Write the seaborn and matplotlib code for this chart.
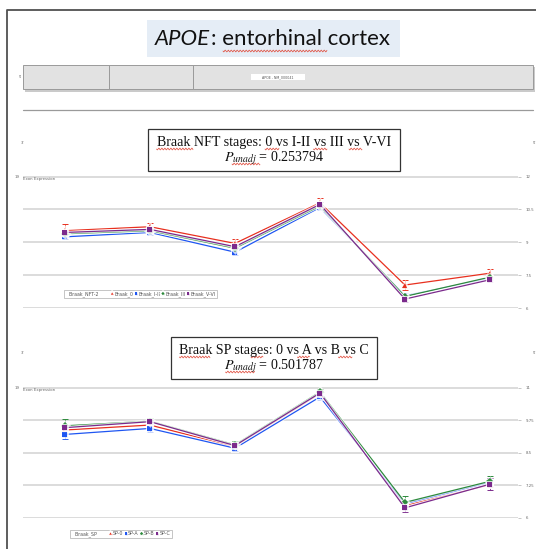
import numpy as np
import pandas as pd
import matplotlib
matplotlib.use("Agg")
import matplotlib.pyplot as plt
import matplotlib.patheffects as pe
from matplotlib.patches import Rectangle
from matplotlib.lines import Line2D
import seaborn as sns

sns.set_style("white")
plt.rcParams["font.family"] = ["DejaVu Sans"]
plt.rcParams["mathtext.fontset"] = "stix"

W, H = 536, 549

# exon positions along the transcript
exon_pos = [0, 1, 2, 3, 4, 5]

# Braak NFT stage groups: mean exon expression and error
nft_groups = ["Braak_0", "Braak_I-II", "Braak_III", "Braak_V-VI"]
nft_braak_0 = [9.53, 9.71, 8.95, 10.80, 7.05, 7.59]
nft_braak_1_2 = [9.25, 9.45, 8.55, 10.59, 6.56, 7.36]
nft_braak_3 = [9.39, 9.53, 8.73, 10.66, 6.53, 7.41]
nft_braak_5_6 = [9.45, 9.59, 8.80, 10.73, 6.41, 7.29]
nft_err_0 = [0.29, 0.15, 0.18, 0.23, 0.23, 0.21]
nft_err_1_2 = [0.12, 0.10, 0.12, 0.10, 0.12, 0.10]
nft_err_3 = [0.10, 0.10, 0.10, 0.10, 0.12, 0.10]
nft_err_5_6 = [0.12, 0.10, 0.10, 0.10, 0.14, 0.10]
nft_ticks = [6, 7.5, 9, 10.5, 12]
nft_ticklabels = ["6", "7.5", "9", "10.5", "12"]

# Braak SP stage groups
sp_groups = ["SP-0", "SP-A", "SP-B", "SP-C"]
sp_0 = [9.37, 9.56, 8.73, 10.77, 6.47, 7.27]
sp_a = [9.20, 9.43, 8.67, 10.64, 6.54, 7.36]
sp_b = [9.53, 9.71, 8.80, 10.83, 6.59, 7.40]
sp_c = [9.46, 9.69, 8.77, 10.79, 6.38, 7.29]
sp_err_0 = [0.12, 0.10, 0.10, 0.10, 0.12, 0.10]
sp_err_a = [0.18, 0.13, 0.12, 0.10, 0.15, 0.10]
sp_err_b = [0.26, 0.12, 0.13, 0.10, 0.26, 0.19]
sp_err_c = [0.12, 0.10, 0.10, 0.10, 0.17, 0.22]
sp_ticks = [6, 7.25, 8.5, 9.75, 11]
sp_ticklabels = ["6", "7.25", "8.5", "9.75", "11"]

group_colors = ["#e8301f", "#1f56f2", "#2d8a3c", "#7b2a8c"]
group_markers = ["^", "s", "D", "s"]


def fx(px):
    return px / W


def fy(py):
    return 1 - py / H


fig = plt.figure(figsize=(W / 100, H / 100), dpi=100)
fig.patch.set_facecolor("white")
renderer = fig.canvas.get_renderer()

# slide frame
fig.add_artist(Line2D([fx(7), fx(7), fx(536)], [fy(549), fy(10), fy(10)],
                      color="#505050", lw=1.3, transform=fig.transFigure))


def squiggle(x0, x1, y):
    xs = np.linspace(x0, x1, int((x1 - x0) * 3) + 2)
    ys = y + 0.9 * np.sin((xs - x0) * 2 * np.pi / 3.0)
    fig.add_artist(Line2D(fx(xs), fy(ys), color="#e04a3a", lw=0.5,
                          transform=fig.transFigure))


# heading: italic gene symbol followed by upright text
fig.add_artist(Rectangle((fx(147), fy(57)), fx(400) - fx(147), fy(20) - fy(57),
                         facecolor="#e5edf6", edgecolor="none",
                         transform=fig.transFigure))
head_font = dict(fontsize=16, family=["Lato", "DejaVu Sans"], color="#111111",
                 va="baseline")
t1 = fig.text(0, fy(45), "APOE", style="italic", **head_font)
t2 = fig.text(0, fy(45), ": entorhinal cortex", **head_font)
w1 = t1.get_window_extent(renderer).width
w2 = t2.get_window_extent(renderer).width
start = 272 - (w1 + w2) / 2
t1.set_x(fx(start))
t2.set_x(fx(start + w1 + 0.5))
squiggle(223, 327, 51)

# gene track
for x0, x1 in [(23, 108.7), (108.7, 193), (193, 533)]:
    fig.add_artist(Rectangle((fx(x0 + 1.5), fy(91.5)), fx(x1) - fx(x0), fy(65) - fy(89),
                             facecolor="#a8a8a8", edgecolor="none", alpha=0.6,
                             transform=fig.transFigure))
    fig.add_artist(Rectangle((fx(x0), fy(89)), fx(x1) - fx(x0), fy(65) - fy(89),
                             facecolor="#e2e2e2", edgecolor="#9a9a9a", lw=0.7,
                             transform=fig.transFigure))
fig.add_artist(Rectangle((fx(251), fy(80)), fx(305) - fx(251), fy(74.5) - fy(80),
                         facecolor="white", edgecolor="none", transform=fig.transFigure))
fig.text(fx(278), fy(77.3), "APOE - NM_000041", ha="center", va="center",
         fontsize=2.3, color="#555555")
fig.text(fx(20), fy(77), "5'", ha="center", va="center", fontsize=2.5, color="#666666")
fig.add_artist(Line2D([fx(23), fx(533)], [fy(110), fy(110)], color="#9a9a9a", lw=0.9,
                      transform=fig.transFigure))


def title_box(x0, x1, y0, y1, line1, pval, squigs, usq):
    fig.add_artist(Rectangle((fx(x0), fy(y1)), fx(x1) - fx(x0), fy(y0) - fy(y1),
                             facecolor="white", edgecolor="#333333", lw=0.9,
                             transform=fig.transFigure))
    cx = (x0 + x1) / 2
    fig.text(fx(cx), fy(y0 + 17), line1, ha="center", va="baseline", fontsize=10.1,
             family=["Liberation Serif", "DejaVu Serif"], color="#111111")
    fig.text(fx(cx), fy(y0 + 32.5), r"$P_{unadj}$" + " = " + pval, ha="center",
             va="baseline", fontsize=10.1, family=["Liberation Serif", "DejaVu Serif"],
             color="#111111")
    for a, b in squigs:
        squiggle(a, b, y0 + 20)
    squiggle(usq[0], usq[1], y0 + 35)


def panel(top, bottom, groups, series, errs, ticks, ticklabels, leg_title, leg_xy,
          end_labels_y):
    ax = fig.add_axes([fx(23), fy(bottom), fx(518) - fx(23), fy(top) - fy(bottom)])
    ax.set_facecolor("none")
    span = ticks[-1] - ticks[0]
    ax.set_ylim(ticks[0] - span * 0.002, ticks[-1] + span * 0.002)
    ax.set_xlim(-0.494, 5.33)
    for t in ticks:
        ax.axhline(t, color="#d2d2d2", lw=1.1, zorder=0)

    df = pd.DataFrame({
        "exon": np.tile(exon_pos, len(groups)),
        "expr": np.concatenate(series),
        "group": np.repeat(groups, len(exon_pos)),
    })
    sns.lineplot(data=df, x="exon", y="expr", hue="group", style="group",
                 hue_order=groups, style_order=groups,
                 palette=dict(zip(groups, group_colors)),
                 markers=dict(zip(groups, group_markers)), dashes=False,
                 markersize=3.6, linewidth=0.9, markeredgewidth=0,
                 errorbar=None, ax=ax, legend=True, zorder=3)
    for ln in ax.lines:
        ln.set_path_effects([pe.Stroke(linewidth=2.3, foreground="white", alpha=0.75),
                             pe.Normal()])
    for vals, err, col in zip(series, errs, group_colors):
        ax.errorbar(exon_pos, vals, yerr=err, fmt="none", ecolor=col, elinewidth=0.7,
                    capsize=2.0, capthick=0.7, zorder=2)

    ax.yaxis.tick_right()
    ax.set_yticks(ticks)
    ax.set_yticklabels(ticklabels)
    ax.tick_params(axis="y", length=2.5, width=0.5, color="#b0b0b0", pad=3,
                   labelsize=2.8, labelcolor="#666666", right=True, left=False)
    ax.set_xticks([])
    ax.set_xlabel("")
    ax.set_ylabel("")
    for s in ax.spines.values():
        s.set_visible(False)

    handles, labels = ax.get_legend_handles_labels()
    ax.get_legend().remove()
    blank = Line2D([], [], color="none")
    leg = ax.legend([blank] + handles, [leg_title + "       "] + labels, ncol=5,
                    loc="center left", bbox_to_anchor=(fx(leg_xy[0]), fy(leg_xy[1])),
                    bbox_transform=fig.transFigure, fontsize=3.4, frameon=True,
                    handlelength=0.5, handletextpad=0.2, columnspacing=0.35,
                    borderpad=0.35, markerscale=0.45, fancybox=False)
    leg.get_frame().set_edgecolor("#9a9a9a")
    leg.get_frame().set_linewidth(0.5)
    for t in leg.get_texts():
        t.set_color("#555555")

    fig.text(fx(15), fy(top + 1), "19", fontsize=2.8, color="#666666", va="center")
    fig.text(fx(23), fy(top + 2.5), "Exon Expression", fontsize=2.8, color="#666666",
             va="center")
    fig.text(fx(21), fy(end_labels_y), "3'", fontsize=2.8, color="#666666", va="center")
    fig.text(fx(533), fy(end_labels_y), "5'", fontsize=2.8, color="#666666", va="center")
    return ax


title_box(147.7, 400, 129, 171, "Braak NFT stages: 0 vs I-II vs III vs V-VI", "0.253794",
          [(156.6, 193), (265, 279), (313.5, 327), (349, 362)], (232, 260))
panel(176.3, 308.3, nft_groups, [nft_braak_0, nft_braak_1_2, nft_braak_3, nft_braak_5_6],
      [nft_err_0, nft_err_1_2, nft_err_3, nft_err_5_6], nft_ticks, nft_ticklabels,
      "Braak_NFT-2", (62, 294), 143)

title_box(171, 377, 337, 379, "Braak SP stages: 0 vs A vs B vs C", "0.501787",
          [(179.5, 210), (251, 263), (297.5, 309.4), (338.5, 352)], (225.6, 254.7))
panel(387.3, 518, sp_groups, [sp_0, sp_a, sp_b, sp_c],
      [sp_err_0, sp_err_a, sp_err_b, sp_err_c], sp_ticks, sp_ticklabels,
      "Braak_SP", (68, 534), 353)

fig.savefig("out.png", dpi=100)
